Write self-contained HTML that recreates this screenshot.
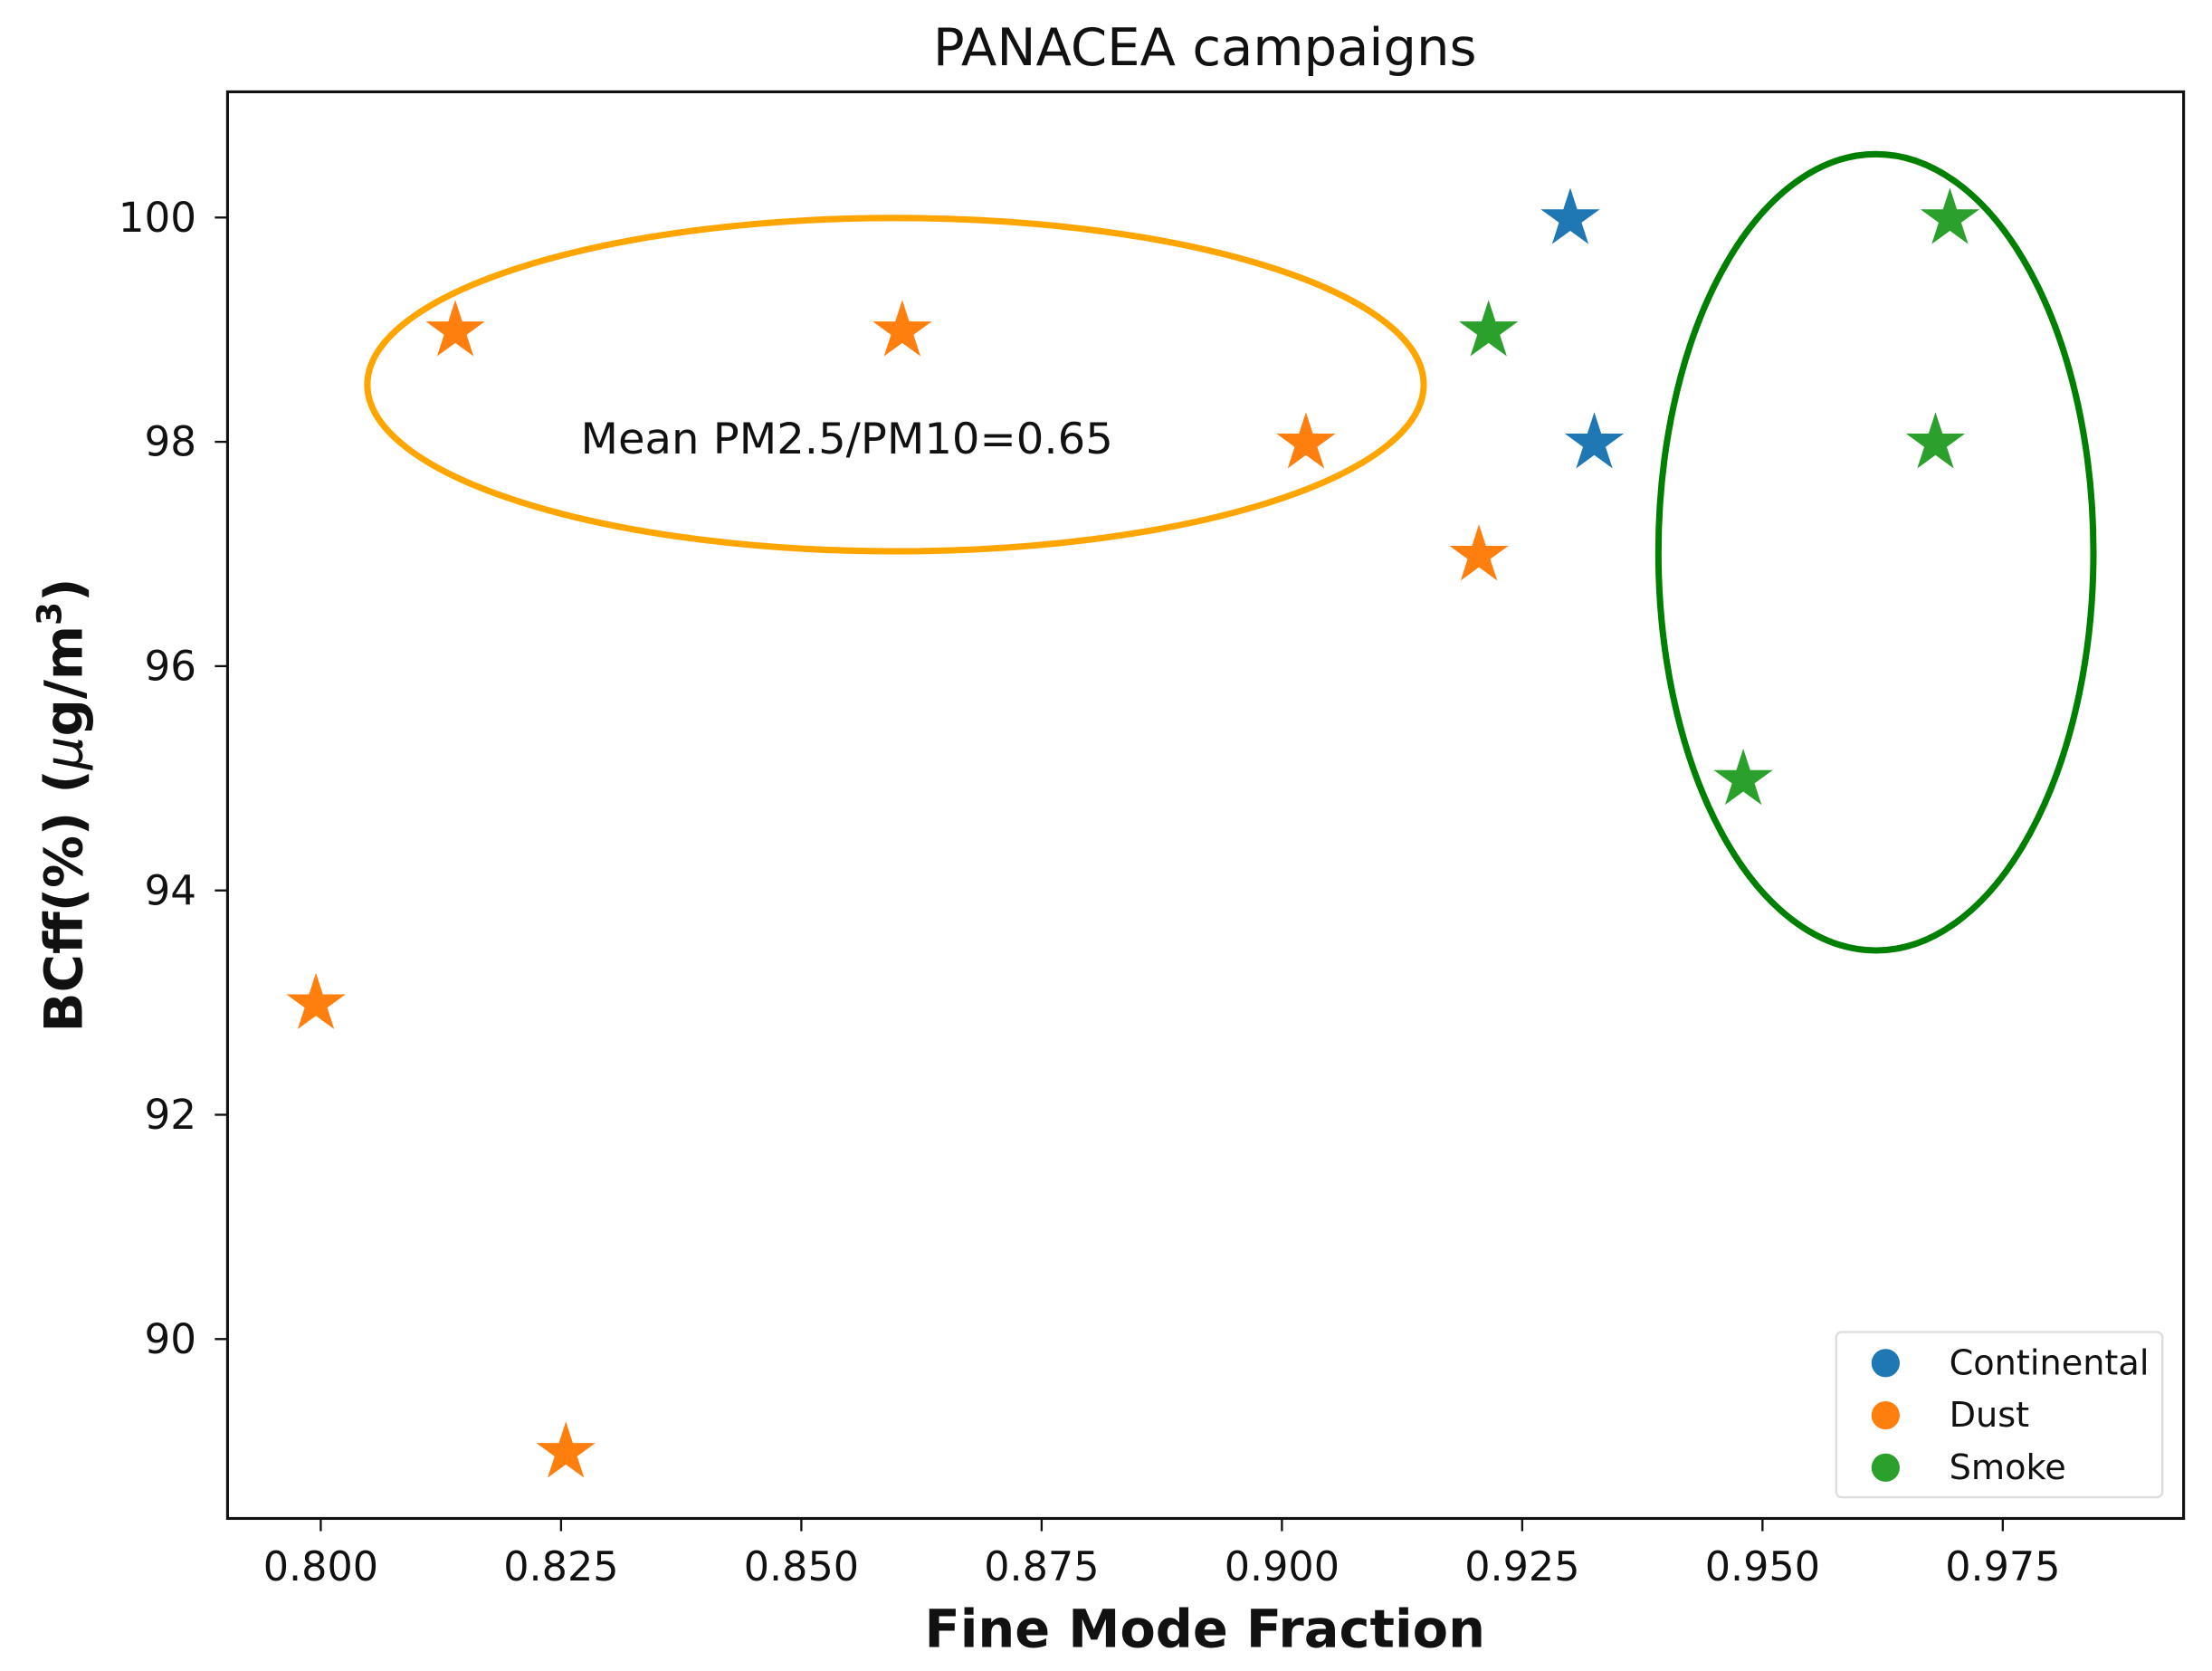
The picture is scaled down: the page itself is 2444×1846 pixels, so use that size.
<!DOCTYPE html>
<html><head><meta charset="utf-8"><style>
html,body{margin:0;padding:0;background:#fff;}
svg{display:block;}
text{font-family:"DejaVu Sans","Liberation Sans",sans-serif;fill:#111;}
</style></head><body>
<svg id="chart" width="2444" height="1846" viewBox="0 0 1566 1183" xmlns="http://www.w3.org/2000/svg">
<rect width="1566" height="1183" fill="#fff"/>
<text x="853" y="46" font-size="36.5" text-anchor="middle" textLength="385" lengthAdjust="spacingAndGlyphs">PANACEA campaigns</text>
<g id="ticks"></g>
<g id="ellipses"></g>
<g id="marks"></g>
<rect x="161" y="65" width="1385" height="1010" fill="none" stroke="#111" stroke-width="2"/>
<text x="411" y="321" font-size="30.5" textLength="377" lengthAdjust="spacingAndGlyphs">Mean PM2.5/PM10=0.65</text>
<text x="853" y="1166" font-size="37" font-weight="bold" text-anchor="middle" textLength="397" lengthAdjust="spacingAndGlyphs">Fine Mode Fraction</text>
<text transform="translate(58,570) rotate(-90)" font-size="37" font-weight="bold" text-anchor="middle">BCff(%) (<tspan font-style="italic" font-weight="normal">μ</tspan>g/m<tspan font-size="24" dy="-15">3</tspan><tspan dy="15">)</tspan></text>
<g>
<rect x="1300" y="943" width="231" height="117" rx="4" fill="#fff" stroke="#ddd" stroke-width="1.5"/>
<circle cx="1335" cy="965" r="10" fill="#1f77b4"/>
<text x="1380" y="973" font-size="24.5">Continental</text>
<circle cx="1335" cy="1002" r="10" fill="#ff7f0e"/>
<text x="1380" y="1010" font-size="24.5">Dust</text>
<circle cx="1335" cy="1039" r="10" fill="#2ca02c"/>
<text x="1380" y="1047" font-size="24.5">Smoke</text>
</g>
</svg>
<script>
const xTicks = [0.800,0.825,0.850,0.875,0.900,0.925,0.950,0.975];
const xTickLabels = ["0.800","0.825","0.850","0.875","0.900","0.925","0.950","0.975"];
const yTicks = [90,92,94,96,98,100];
const yTickLabels = ["90","92","94","96","98","100"];
const contX = [0.930,0.9325];
const contY = [100,98];
const dustX = [0.814,0.8605,0.9025,0.9205,0.7995,0.8255];
const dustY = [99,99,98,97,93,89];
const smokeX = [0.9215,0.9695,0.968,0.948];
const smokeY = [99,100,98,95];
const ellipseCx = [0.8598,0.9618];
const ellipseCy = [98.51,97.015];
const ellipseRx = [0.05495,0.02263];
const ellipseRy = [1.486,3.55];

const NS="http://www.w3.org/2000/svg";
function sx(v){return 227+(v-0.8)/0.025*170.14;}
function sy(v){return 154+(100-v)*79.4;}
function mk(tag,attrs,parent){const e=document.createElementNS(NS,tag);for(const k in attrs)e.setAttribute(k,attrs[k]);parent.appendChild(e);return e;}
const tg=document.getElementById('ticks');
xTicks.forEach((t,i)=>{
  const l=mk('line',{x1:sx(t),x2:sx(t),y1:1075,y2:1084,stroke:'#111','stroke-width':1.5},tg);
  
  
  const tx=mk('text',{x:sx(t),y:1119,'font-size':28.5,'text-anchor':'middle'},tg);
  tx.textContent=xTickLabels[i];
  
  
});
yTicks.forEach((t,i)=>{
  const l=mk('line',{x1:152,x2:161,y1:sy(t),y2:sy(t),stroke:'#111','stroke-width':1.5},tg);
  
  
  const tx=mk('text',{x:139,y:sy(t)+10,'font-size':29,'text-anchor':'end'},tg);
  tx.textContent=yTickLabels[i];
  
  
});
const eg=document.getElementById('ellipses');
const eColors=['#ffa500','#008000'];
ellipseCx.forEach((c,i)=>{
  const e=mk('ellipse',{cx:sx(c),cy:sy(ellipseCy[i]),rx:ellipseRx[i]/0.025*170.14,ry:ellipseRy[i]*79.4,fill:'none',stroke:eColors[i],'stroke-width':4.5},eg);
  
  
});
function starPts(cx,cy,R){const r=R*0.382;let p=[];for(let k=0;k<10;k++){const a=-Math.PI/2+k*Math.PI/5;const rr=k%2?r:R;p.push((cx+rr*Math.cos(a)).toFixed(2)+','+(cy+rr*Math.sin(a)).toFixed(2));}return p.join(' ');}
const mg=document.getElementById('marks');
function series(xs,ys,color,name){
  xs.forEach((x,i)=>{
    const s=mk('polygon',{points:starPts(sx(x),sy(ys[i])+1,22),fill:color},mg);
    
    
  });
}
series(contX,contY,'#1f77b4','continental');
series(dustX,dustY,'#ff7f0e','dust');
series(smokeX,smokeY,'#2ca02c','smoke');
</script>
</body></html>
